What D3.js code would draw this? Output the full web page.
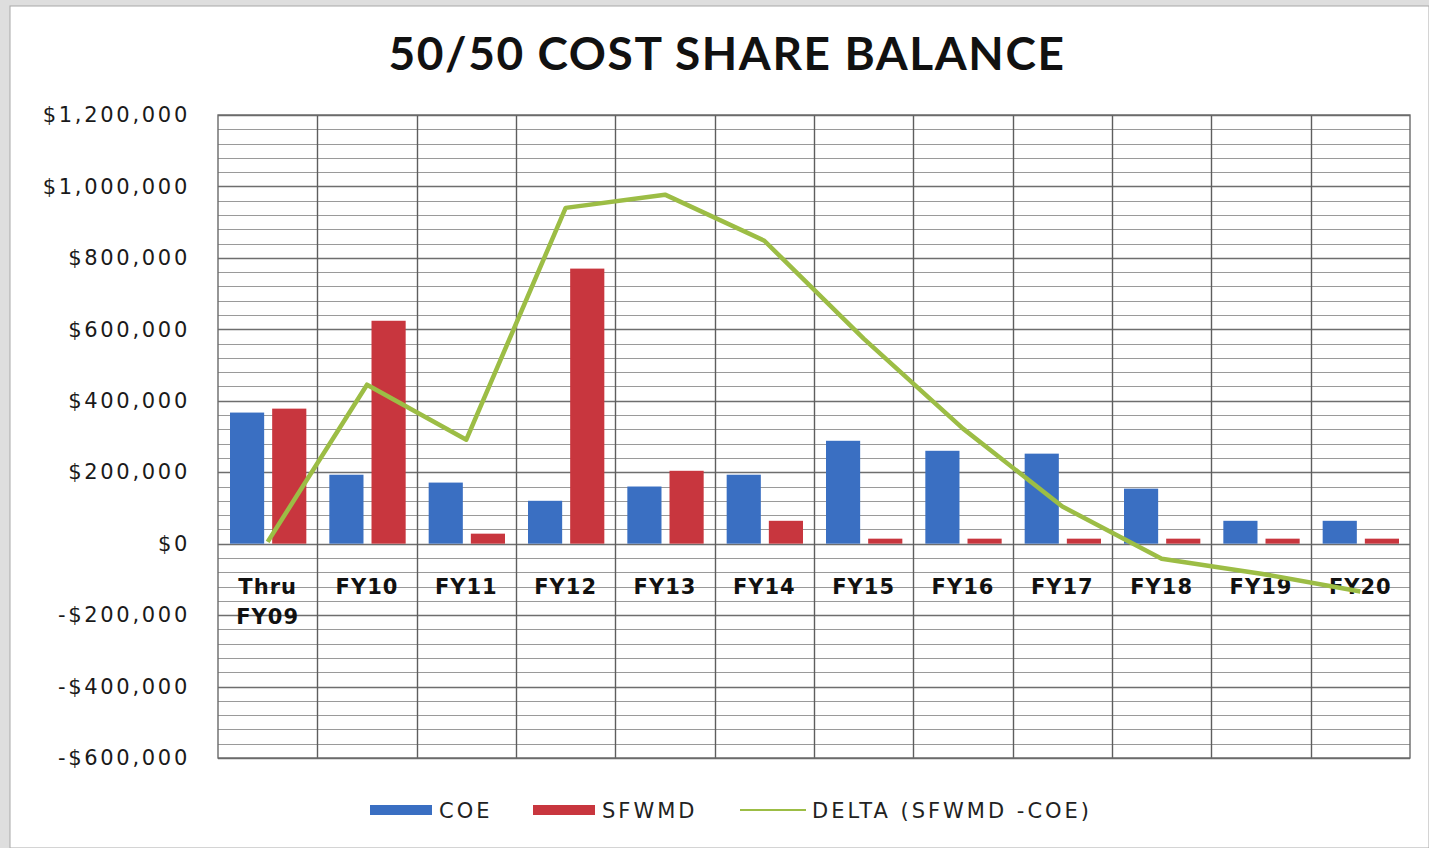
<!DOCTYPE html>
<html>
<head>
<meta charset="utf-8">
<script src="https://cdn.jsdelivr.net/npm/d3@7"></script>
<style>
  body { margin: 0; background: #dedede; }
  svg { display: block; }
</style>
</head>
<body>
<div id="chart"></div>
<script>
// chart data
var categories = ["Thru FY09", "FY10", "FY11", "FY12", "FY13", "FY14", "FY15", "FY16", "FY17", "FY18", "FY19", "FY20"];
var coe = [367000, 193000, 171000, 120000, 160000, 193000, 288000, 260000, 252000, 154000, 64000, 64000];
var sfwmd = [378000, 624000, 28000, 770000, 204000, 64000, 14000, 14000, 14000, 14000, 14000, 14000];
var delta = [5000, 445000, 291000, 940000, 977000, 848000, 574000, 322000, 104000, -42000, -84000, -134000];
var seriesNames = ["COE", "SFWMD"];
var legendLabels = ["COE", "SFWMD", "DELTA (SFWMD -COE)"];
var yTicks = [-600000, -400000, -200000, 0, 200000, 400000, 600000, 800000, 1000000, 1200000];

var width = 1429, height = 848;
var plotLeft = 218, plotRight = 1410, plotTop = 115, plotBottom = 758;
var blue = "#3a6fc2", red = "#c8363e", green = "#9cbd45";

var svg = d3.select("#chart").append("svg")
    .attr("width", width)
    .attr("height", height);

// white chart panel
svg.append("rect")
   .attr("x", 10).attr("y", 6)
   .attr("width", width - 10).attr("height", height - 6)
   .attr("fill", "#fff")
   .attr("stroke", "#a8a8a8");

var x0 = d3.scaleBand().domain(categories).range([plotLeft, plotRight]);
var x1 = d3.scaleBand().domain(seriesNames).range([12, x0.bandwidth() - 11]).paddingInner(0.19);
var y = d3.scaleLinear().domain([-600000, 1200000]).range([plotBottom, plotTop]);

// minor + major gridlines
var gridVals = d3.range(-600000, 1200001, 40000);
svg.append("g").selectAll("line")
   .data(gridVals)
   .enter().append("line")
   .attr("x1", plotLeft).attr("x2", plotRight)
   .attr("y1", function(d) { return Math.round(y(d)) + 0.5; })
   .attr("y2", function(d) { return Math.round(y(d)) + 0.5; })
   .attr("stroke", function(d) { return d % 200000 === 0 ? "#6e6e6e" : "#9a9a9a"; })
   .attr("stroke-width", function(d) { return d % 200000 === 0 ? 1.6 : 1.2; });

// vertical category dividers
svg.append("g").selectAll("line")
   .data(categories.slice(1))
   .enter().append("line")
   .attr("x1", function(d) { return Math.round(x0(d)) + 0.5; })
   .attr("x2", function(d) { return Math.round(x0(d)) + 0.5; })
   .attr("y1", plotTop).attr("y2", plotBottom)
   .attr("stroke", "#5e5e5e")
   .attr("stroke-width", 1.4);

svg.append("rect")
   .attr("x", plotLeft).attr("y", plotTop)
   .attr("width", plotRight - plotLeft).attr("height", plotBottom - plotTop)
   .attr("fill", "none")
   .attr("stroke", "#6a6a6a")
   .attr("stroke-width", 1.4);

// bars
var rows = categories.map(function(c, i) {
  return { cat: c, vals: [{ key: "COE", v: coe[i] }, { key: "SFWMD", v: sfwmd[i] }] };
});
var colour = d3.scaleOrdinal().domain(seriesNames).range([blue, red]);

svg.append("g").selectAll("g")
   .data(rows)
   .enter().append("g")
   .attr("transform", function(d) { return "translate(" + x0(d.cat) + ",0)"; })
   .selectAll("rect")
   .data(function(d) { return d.vals; })
   .enter().append("rect")
   .attr("x", function(d) { return x1(d.key); })
   .attr("width", x1.bandwidth())
   .attr("y", function(d) { return y(Math.max(0, d.v)); })
   .attr("height", function(d) { return Math.abs(y(d.v) - y(0)); })
   .attr("fill", function(d) { return colour(d.key); });

// category labels (wrapped), drawn before the line so it passes over them
var catLabels = svg.append("g").selectAll("text")
   .data(categories)
   .enter().append("text")
   .attr("x", function(d) { return x0(d) + x0.bandwidth() / 2; })
   .attr("y", y(0) + 50)
   .attr("text-anchor", "middle")
   .attr("font-family", "DejaVu Sans, sans-serif")
   .attr("font-weight", "bold")
   .attr("font-size", "21px")
   .attr("letter-spacing", "1px")
   .attr("fill", "#111");
catLabels.each(function(d) {
  var parts = d.indexOf("Thru") === 0 ? ["Thru", d.slice(5)] : [d];
  var t = d3.select(this);
  parts.forEach(function(p, k) {
    t.append("tspan")
     .attr("x", t.attr("x"))
     .attr("dy", k === 0 ? 0 : 30)
     .text(p);
  });
});

// delta line
var line = d3.line()
    .x(function(d, i) { return x0(categories[i]) + x0.bandwidth() / 2; })
    .y(function(d) { return y(d); });

svg.append("path")
   .datum(delta)
   .attr("d", line)
   .attr("fill", "none")
   .attr("stroke", green)
   .attr("stroke-width", 4.5)
   .attr("stroke-linejoin", "round");

// y axis labels
var yAxis = d3.axisLeft(y)
    .tickValues(yTicks)
    .tickSize(0)
    .tickPadding(0)
    .tickFormat(function(d) { return (d < 0 ? "-" : "") + "$" + d3.format(",")(Math.abs(d)); });

var ya = svg.append("g")
   .attr("transform", "translate(190,0)")
   .call(yAxis);
ya.select(".domain").remove();
ya.selectAll("text")
  .attr("font-family", "DejaVu Sans, sans-serif")
  .attr("font-size", "21px")
  .attr("letter-spacing", "2.7px")
  .attr("fill", "#1a1a1a");

// title
svg.append("text")
   .attr("x", 727).attr("y", 70)
   .attr("text-anchor", "middle")
   .attr("font-family", "Lato, sans-serif")
   .attr("font-weight", "bold")
   .attr("font-size", "46px")
   .attr("letter-spacing", "1.6px")
   .attr("fill", "#111")
   .text("50/50 COST SHARE BALANCE");

// legend
var legendX = [370, 533, 740];
var lg = svg.append("g").attr("transform", "translate(0,810)");
legendLabels.forEach(function(lab, i) {
  if (i < 2) {
    lg.append("rect")
      .attr("x", legendX[i]).attr("y", -5)
      .attr("width", 62).attr("height", 10)
      .attr("fill", i === 0 ? blue : red);
  } else {
    lg.append("line")
      .attr("x1", legendX[i]).attr("x2", legendX[i] + 66)
      .attr("y1", 0).attr("y2", 0)
      .attr("stroke", green).attr("stroke-width", 2);
  }
  lg.append("text")
    .attr("x", legendX[i] + (i < 2 ? 69 : 72))
    .attr("y", 8)
    .attr("font-family", "DejaVu Sans, sans-serif")
    .attr("font-size", "21px")
    .attr("letter-spacing", "3px")
    .attr("fill", "#222")
    .text(lab);
});
</script>
</body>
</html>
